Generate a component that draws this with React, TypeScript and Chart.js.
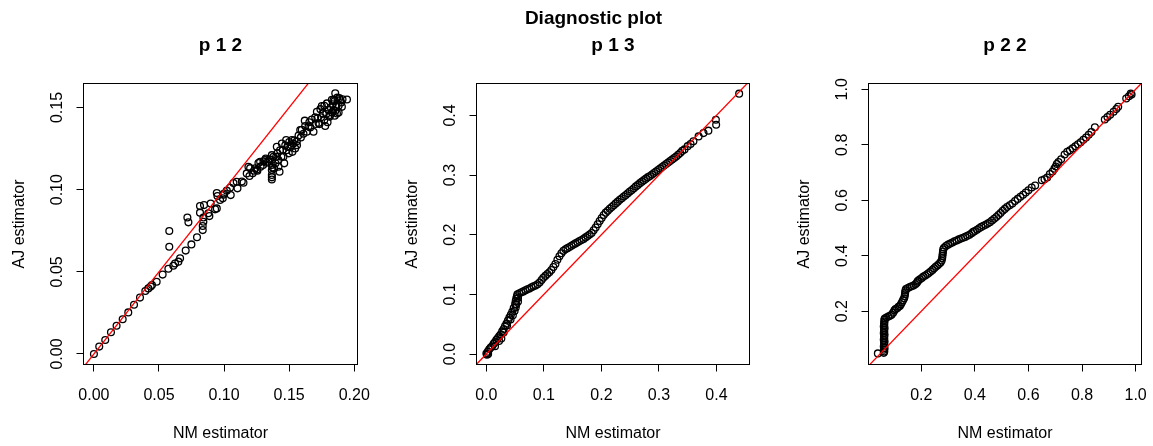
import React, { useEffect, useRef } from "react";
import { Chart, registerables } from "chart.js";
Chart.register(...registerables);

const FIG_TITLE = "Diagnostic plot";
const X_TITLE = "NM estimator";
const Y_TITLE = "AJ estimator";

// ---- panel "p 1 2" ----
const p12Title = "p 1 2";
const p12XLimits = [-0.008, 0.2025];
const p12YLimits = [-0.0064, 0.1646];
const p12XTicks = [0, 0.05, 0.1, 0.15, 0.2];
const p12XTickLabels = ["0.00", "0.05", "0.10", "0.15", "0.20"];
const p12YTicks = [0, 0.05, 0.1, 0.15];
const p12YTickLabels = ["0.00", "0.05", "0.10", "0.15"];
const p12Points = [
  [0, 0], [0.0041, 0.0045], [0.0087, 0.0085], [0.0131, 0.0132], [0.0174, 0.0172], [0.0221, 0.0211],
  [0.0264, 0.0253], [0.0308, 0.03], [0.0354, 0.0343], [0.0395, 0.0383], [0.0418, 0.0399], [0.0436, 0.041],
  [0.0446, 0.042], [0.0482, 0.044], [0.0528, 0.0483], [0.0572, 0.0519], [0.061, 0.0537], [0.0623, 0.0551],
  [0.0649, 0.0562], [0.0662, 0.0582], [0.0705, 0.0629], [0.0749, 0.0667], [0.0792, 0.071],
  [0.0579, 0.0748], [0.0579, 0.0653], [0.0718, 0.0831], [0.0726, 0.0801],
  [0.0836, 0.0754], [0.0836, 0.0779], [0.0841, 0.0805], [0.0841, 0.0831], [0.0815, 0.086], [0.0815, 0.09],
  [0.0846, 0.0906], [0.0879, 0.0856], [0.0887, 0.0839], [0.0897, 0.0916], [0.0931, 0.088], [0.0944, 0.0886],
  [0.0944, 0.0979], [0.0949, 0.0961], [0.0969, 0.0937], [0.099, 0.0947], [0.0995, 0.0969], [0.1, 0.0977],
  [0.1021, 0.0994], [0.1046, 0.1012], [0.1051, 0.0967], [0.1072, 0.104], [0.1097, 0.1048], [0.1103, 0.1008],
  [0.1136, 0.105], [0.1149, 0.1042], [0.1174, 0.1099], [0.1187, 0.1139], [0.1195, 0.1083], [0.12, 0.1131],
  [0.122, 0.11], [0.124, 0.113], [0.1231, 0.1115], [0.1251, 0.1121], [0.1256, 0.1115], [0.1264, 0.1162],
  [0.1277, 0.117], [0.128, 0.114], [0.13, 0.115], [0.1303, 0.1172], [0.1315, 0.118], [0.132, 0.119],
  [0.1328, 0.1164], [0.134, 0.117], [0.1349, 0.1184],
  [0.1367, 0.121], [0.1367, 0.118], [0.1367, 0.115], [0.1367, 0.1119], [0.1367, 0.1089], [0.1367, 0.1062],
  [0.1379, 0.12], [0.1385, 0.1129], [0.1367, 0.1075], [0.1372, 0.1135], [0.1395, 0.116], [0.14, 0.12],
  [0.1405, 0.1261], [0.141, 0.1221], [0.1418, 0.118], [0.1418, 0.114], [0.1426, 0.1109], [0.143, 0.124],
  [0.144, 0.12], [0.1444, 0.1281], [0.1451, 0.1241], [0.1456, 0.12], [0.1462, 0.116], [0.147, 0.127],
  [0.1477, 0.1302], [0.148, 0.124], [0.1487, 0.1261], [0.1497, 0.1221], [0.15, 0.129], [0.151, 0.126],
  [0.1521, 0.1302], [0.1525, 0.123], [0.1533, 0.1281], [0.154, 0.13], [0.1546, 0.1251], [0.1559, 0.1294],
  [0.156, 0.127], [0.1572, 0.133], [0.1585, 0.1363], [0.159, 0.1318], [0.1597, 0.1365], [0.161, 0.134],
  [0.162, 0.142], [0.1623, 0.1387], [0.1636, 0.1352], [0.1649, 0.1385], [0.1655, 0.141], [0.1662, 0.1379],
  [0.1674, 0.1427], [0.1687, 0.1352], [0.17, 0.144], [0.1705, 0.14], [0.1713, 0.1474], [0.1718, 0.1434],
  [0.1726, 0.1405], [0.1733, 0.1399], [0.174, 0.149], [0.1745, 0.144], [0.1751, 0.1509], [0.1759, 0.1464],
  [0.1769, 0.1423], [0.177, 0.151], [0.1777, 0.1387], [0.1785, 0.146], [0.179, 0.1525], [0.1795, 0.141],
  [0.1803, 0.1484], [0.181, 0.1444], [0.1815, 0.1454], [0.182, 0.15], [0.1828, 0.1547], [0.183, 0.147],
  [0.1835, 0.152], [0.1841, 0.1545], [0.1841, 0.1484], [0.185, 0.145], [0.185, 0.154], [0.1854, 0.1586],
  [0.1855, 0.148], [0.1862, 0.1509], [0.1867, 0.1464], [0.187, 0.156], [0.188, 0.151], [0.188, 0.147],
  [0.1885, 0.1557], [0.1892, 0.1545], [0.19, 0.153], [0.1905, 0.1504], [0.191, 0.155], [0.1944, 0.1549],
];

// ---- panel "p 1 3" ----
const p13Title = "p 1 3";
const p13XLimits = [-0.0172, 0.4575];
const p13YLimits = [-0.0175, 0.4535];
const p13XTicks = [0, 0.1, 0.2, 0.3, 0.4];
const p13XTickLabels = ["0.0", "0.1", "0.2", "0.3", "0.4"];
const p13YTicks = [0, 0.1, 0.2, 0.3, 0.4];
const p13YTickLabels = ["0.0", "0.1", "0.2", "0.3", "0.4"];
const p13Points = [
  [0.0, 0.001], [0.001, -0.001], [0.003, 0.0], [0.0025, 0.004], [0.005, 0.008], [0.0075, 0.011], [0.01, 0.013],
  [0.0125, 0.017], [0.015, 0.013], [0.015, 0.02], [0.0175, 0.024], [0.02, 0.027], [0.022, 0.022], [0.0225, 0.03],
  [0.025, 0.033], [0.026, 0.026], [0.0275, 0.038], [0.03, 0.036], [0.03, 0.042], [0.0325, 0.047], [0.035, 0.051],
  [0.036, 0.048], [0.0375, 0.056], [0.04, 0.061], [0.042, 0.058], [0.0425, 0.066], [0.045, 0.071], [0.046, 0.065],
  [0.0475, 0.077], [0.049, 0.072], [0.05, 0.084], [0.051, 0.078], [0.051, 0.089], [0.052, 0.083], [0.052, 0.093],
  [0.055, 0.088], [0.053, 0.097], [0.055, 0.094], [0.054, 0.1],
  [0.0575, 0.102], [0.061, 0.1035], [0.0645, 0.105], [0.068, 0.107], [0.0715, 0.1085], [0.075, 0.11],
  [0.0785, 0.112], [0.082, 0.1135], [0.0855, 0.115], [0.089, 0.117], [0.0925, 0.12], [0.096, 0.124], [0.099, 0.128],
  [0.1025, 0.131], [0.106, 0.134], [0.1095, 0.137], [0.113, 0.141], [0.1165, 0.146], [0.12, 0.151],
  [0.1235, 0.158], [0.127, 0.164], [0.1305, 0.169], [0.134, 0.173],
  [0.1375, 0.1755], [0.141, 0.1775], [0.1445, 0.1795], [0.148, 0.1815], [0.1515, 0.1835], [0.155, 0.1855],
  [0.1585, 0.1875], [0.162, 0.1895], [0.1655, 0.191], [0.169, 0.193], [0.1725, 0.1955], [0.176, 0.198],
  [0.1795, 0.2005], [0.183, 0.203],
  [0.1865, 0.2075], [0.19, 0.212], [0.1935, 0.2175], [0.197, 0.223], [0.2005, 0.228], [0.204, 0.233],
  [0.2075, 0.237], [0.211, 0.24],
  [0.2145, 0.2435], [0.218, 0.2465], [0.2215, 0.2495], [0.225, 0.2525], [0.2285, 0.2555], [0.232, 0.2585],
  [0.2355, 0.261], [0.239, 0.264], [0.2425, 0.2665], [0.246, 0.2695], [0.2495, 0.2725], [0.253, 0.275],
  [0.2565, 0.278], [0.26, 0.281], [0.2635, 0.2835], [0.267, 0.2865], [0.2705, 0.289], [0.274, 0.2915],
  [0.2775, 0.294], [0.281, 0.2965], [0.2845, 0.2985], [0.288, 0.301], [0.2915, 0.3035], [0.295, 0.306],
  [0.2985, 0.3085], [0.302, 0.311], [0.3055, 0.3135], [0.309, 0.316], [0.3125, 0.3185], [0.316, 0.321],
  [0.3195, 0.3235], [0.323, 0.326], [0.3265, 0.3285], [0.33, 0.331], [0.3335, 0.334], [0.337, 0.337],
  [0.3405, 0.3405],
  [0.3445, 0.343], [0.35, 0.3485], [0.355, 0.352], [0.36, 0.3565], [0.369, 0.3648], [0.3775, 0.3704],
  [0.386, 0.3745], [0.399, 0.3927], [0.3995, 0.3844], [0.4395, 0.4365],
];

// ---- panel "p 2 2" ----
const p22Title = "p 2 2";
const p22XLimits = [0.003, 1.022];
const p22YLimits = [0.008, 1.021];
const p22XTicks = [0.2, 0.4, 0.6, 0.8, 1.0];
const p22XTickLabels = ["0.2", "0.4", "0.6", "0.8", "1.0"];
const p22YTicks = [0.2, 0.4, 0.6, 0.8, 1.0];
const p22YTickLabels = ["0.2", "0.4", "0.6", "0.8", "1.0"];
const p22Points = [
  [0.038, 0.048],
  [0.06, 0.05], [0.062, 0.055], [0.061, 0.061], [0.063, 0.067], [0.06, 0.073], [0.062, 0.079], [0.061, 0.085],
  [0.063, 0.091], [0.06, 0.097], [0.062, 0.103], [0.061, 0.109], [0.063, 0.115], [0.06, 0.121], [0.062, 0.127],
  [0.061, 0.133], [0.063, 0.139], [0.06, 0.145], [0.062, 0.151], [0.061, 0.157], [0.063, 0.163], [0.062, 0.169],
  [0.064, 0.174],
  [0.07, 0.177], [0.077, 0.181], [0.083, 0.184], [0.089, 0.187], [0.095, 0.195], [0.1, 0.203], [0.104, 0.208],
  [0.11, 0.211], [0.115, 0.216], [0.12, 0.219], [0.124, 0.225], [0.128, 0.232], [0.132, 0.24], [0.136, 0.247],
  [0.138, 0.254], [0.139, 0.261], [0.14, 0.268], [0.141, 0.275], [0.143, 0.28], [0.15, 0.284], [0.157, 0.287],
  [0.164, 0.29], [0.171, 0.293], [0.178, 0.297], [0.183, 0.302], [0.186, 0.307], [0.189, 0.311], [0.195, 0.315],
  [0.202, 0.32], [0.208, 0.325], [0.215, 0.329], [0.222, 0.333], [0.228, 0.338], [0.235, 0.343], [0.242, 0.349],
  [0.248, 0.355], [0.254, 0.36], [0.26, 0.365], [0.266, 0.37], [0.272, 0.376], [0.276, 0.383], [0.278, 0.391],
  [0.279, 0.399], [0.28, 0.407], [0.281, 0.415], [0.282, 0.423], [0.285, 0.429], [0.292, 0.435], [0.3, 0.44],
  [0.308, 0.444], [0.316, 0.448], [0.324, 0.452], [0.332, 0.455], [0.34, 0.459], [0.348, 0.462], [0.356, 0.465],
  [0.364, 0.468], [0.372, 0.472], [0.38, 0.476], [0.388, 0.481], [0.394, 0.486], [0.4, 0.489], [0.408, 0.494],
  [0.416, 0.499], [0.424, 0.504], [0.432, 0.508], [0.44, 0.512], [0.448, 0.516], [0.456, 0.521], [0.464, 0.527],
  [0.472, 0.533], [0.48, 0.54], [0.488, 0.547], [0.496, 0.554], [0.504, 0.562], [0.512, 0.569], [0.52, 0.576],
  [0.53, 0.582], [0.54, 0.588], [0.55, 0.597], [0.56, 0.605], [0.57, 0.613], [0.58, 0.62], [0.59, 0.628],
  [0.6, 0.636], [0.612, 0.646], [0.625, 0.653], [0.65, 0.672], [0.66, 0.676], [0.67, 0.682], [0.68, 0.695],
  [0.69, 0.704], [0.697, 0.714], [0.702, 0.722], [0.706, 0.731], [0.712, 0.738], [0.722, 0.748], [0.735, 0.765],
  [0.745, 0.775], [0.755, 0.78], [0.765, 0.787], [0.775, 0.795], [0.785, 0.802], [0.795, 0.809], [0.805, 0.818],
  [0.815, 0.826], [0.825, 0.836], [0.835, 0.846], [0.848, 0.863], [0.885, 0.891], [0.895, 0.9], [0.905, 0.908],
  [0.918, 0.919], [0.928, 0.929], [0.935, 0.937], [0.965, 0.967], [0.975, 0.975], [0.982, 0.985], [0.985, 0.981],
];

const FONT = "'Liberation Sans', Arial, Helvetica, sans-serif";

const rStylePlugin = {
  id: "rStyle",
  afterDatasetsDraw(chart: any, _args: any, o: any) {
    const { ctx, chartArea: a, scales } = chart;
    const xs = scales.x;
    const ys = scales.y;
    ctx.save();
    ctx.strokeStyle = "#000";
    ctx.lineWidth = 1;
    ctx.strokeRect(a.left, a.top, a.right - a.left, a.bottom - a.top);
    ctx.beginPath();
    o.xTicks.forEach((t: number) => {
      const px = Math.round(xs.getPixelForValue(t) - 0.5) + 0.5;
      ctx.moveTo(px, a.bottom);
      ctx.lineTo(px, a.bottom + 7);
    });
    o.yTicks.forEach((t: number) => {
      const py = Math.round(ys.getPixelForValue(t) - 0.5) + 0.5;
      ctx.moveTo(a.left, py);
      ctx.lineTo(a.left - 7, py);
    });
    ctx.stroke();

    ctx.fillStyle = "#000";
    ctx.font = `16px ${FONT}`;
    ctx.textAlign = "center";
    ctx.textBaseline = "alphabetic";
    o.xTicks.forEach((t: number, i: number) => {
      ctx.fillText(o.xLabels[i], xs.getPixelForValue(t), a.bottom + 35.5);
    });
    ctx.fillText(o.xTitle, (a.left + a.right) / 2, a.bottom + 73.5);
    o.yTicks.forEach((t: number, i: number) => {
      ctx.save();
      ctx.translate(a.left - 22, ys.getPixelForValue(t));
      ctx.rotate(-Math.PI / 2);
      ctx.fillText(o.yLabels[i], 0, 0);
      ctx.restore();
    });
    ctx.save();
    ctx.translate(a.left - 60, (a.top + a.bottom) / 2);
    ctx.rotate(-Math.PI / 2);
    ctx.fillText(o.yTitle, 0, 0);
    ctx.restore();

    ctx.font = `bold 19px ${FONT}`;
    ctx.fillText(o.title, (a.left + a.right) / 2, 51);
    if (o.outerTitle) {
      ctx.fillText(o.outerTitle, o.outerX, 24);
    }
    ctx.restore();
  },
};

type PanelDef = {
  offset: number;
  width: number;
  area: [number, number];
  title: string;
  points: number[][];
  xLim: number[];
  yLim: number[];
  xTicks: number[];
  xLabels: string[];
  yTicks: number[];
  yLabels: string[];
  outerTitle?: string;
  outerX?: number;
};

const HEIGHT = 446;
const AREA_TOP = 83.5;
const AREA_BOTTOM = 364.5;

const panels: PanelDef[] = [
  { offset: 0, width: 384, area: [83.5, 357.5], title: p12Title, points: p12Points, xLim: p12XLimits, yLim: p12YLimits,
    xTicks: p12XTicks, xLabels: p12XTickLabels, yTicks: p12YTicks, yLabels: p12YTickLabels },
  { offset: 384, width: 384, area: [92.5, 365.5], title: p13Title, points: p13Points, xLim: p13XLimits, yLim: p13YLimits,
    xTicks: p13XTicks, xLabels: p13XTickLabels, yTicks: p13YTicks, yLabels: p13YTickLabels,
    outerTitle: FIG_TITLE, outerX: 209.5 },
  { offset: 768, width: 385, area: [100.5, 373.5], title: p22Title, points: p22Points, xLim: p22XLimits, yLim: p22YLimits,
    xTicks: p22XTicks, xLabels: p22XTickLabels, yTicks: p22YTicks, yLabels: p22YTickLabels },
];

function Panel({ p }: { p: PanelDef }) {
  const ref = useRef<HTMLCanvasElement | null>(null);
  useEffect(() => {
    if (!ref.current) return;
    const chart = new Chart(ref.current, {
      type: "scatter",
      data: {
        datasets: [
          {
            label: "identity",
            data: [
              { x: p.xLim[0], y: p.xLim[0] },
              { x: p.xLim[1], y: p.xLim[1] },
            ],
            showLine: true,
            borderColor: "#ff0000",
            borderWidth: 1.3,
            pointRadius: 0,
            order: 0,
          },
          {
            label: "points",
            data: p.points.map(([x, y]) => ({ x, y })),
            pointStyle: "circle",
            pointRadius: 3.4,
            pointBorderWidth: 1.3,
            borderColor: "#000",
            backgroundColor: "rgba(0,0,0,0)",
            pointBackgroundColor: "rgba(0,0,0,0)",
            pointBorderColor: "#000",
            order: 1,
          },
        ],
      },
      options: {
        animation: false,
        responsive: false,
        events: [],
        layout: {
          padding: {
            left: p.area[0],
            right: p.width - p.area[1],
            top: AREA_TOP,
            bottom: HEIGHT - AREA_BOTTOM,
          },
        },
        scales: {
          x: { type: "linear", min: p.xLim[0], max: p.xLim[1], display: false },
          y: { type: "linear", min: p.yLim[0], max: p.yLim[1], display: false },
        },
        plugins: {
          legend: { display: false },
          tooltip: { enabled: false },
          rStyle: {
            xTicks: p.xTicks,
            xLabels: p.xLabels,
            yTicks: p.yTicks,
            yLabels: p.yLabels,
            xTitle: X_TITLE,
            yTitle: Y_TITLE,
            title: p.title,
            outerTitle: p.outerTitle,
            outerX: p.outerX,
          },
        } as any,
      },
      plugins: [rStylePlugin],
    } as any);
    return () => chart.destroy();
  }, [p]);
  return (
    <canvas
      ref={ref}
      width={p.width}
      height={HEIGHT}
      style={{ position: "absolute", left: p.offset, top: 0, width: p.width, height: HEIGHT }}
    />
  );
}

export default function App() {
  return (
    <div style={{ position: "absolute", left: 0, top: 0, width: 1153, height: HEIGHT, background: "#fff", overflow: "hidden" }}>
      {panels.map((p) => (
        <Panel key={p.title} p={p} />
      ))}
    </div>
  );
}
